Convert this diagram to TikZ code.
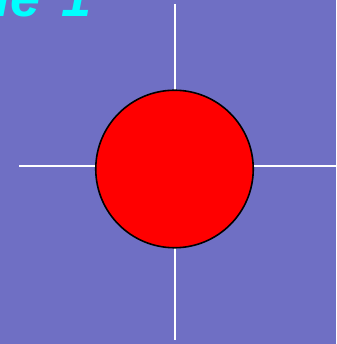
\documentclass[tikz,border=0pt]{standalone}
\usepackage{fontspec}
\setmainfont{Liberation Sans}
\definecolor{bgblue}{RGB}{111,111,196}
\definecolor{titlecyan}{RGB}{0,255,255}
\begin{document}
\begin{tikzpicture}[x=1pt, y=1pt]
\clip (0,0) rectangle (336,344);
\fill[bgblue] (0,0) rectangle (336,344);
\node[anchor=base west, inner sep=0pt, text=titlecyan, font=\bfseries\itshape\fontsize{54}{54}\selectfont] at (-5,327.5) (title) {le\hspace{21pt}1};
\coordinate (top) at (175,340);
\coordinate (bottom) at (175,4);
\coordinate (left) at (19,178);
\coordinate (right) at (336,178);
\draw[white, line width=2.4pt] (top) -- (bottom);
\draw[white, line width=2.4pt] (left) -- (right);
\node[circle, draw=black, line width=1.6pt, fill=red, minimum size=157.5pt, inner sep=0pt] at (174.5,175) (disc) {};
\end{tikzpicture}
\end{document}
